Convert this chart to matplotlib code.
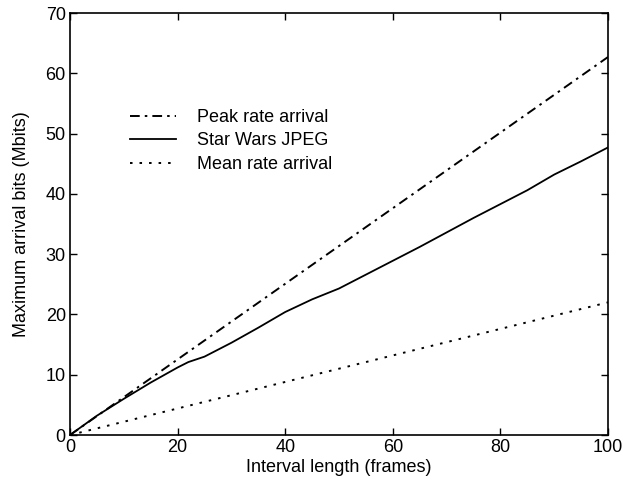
import matplotlib
matplotlib.use("Agg")
import matplotlib.pyplot as plt

plt.rcParams["font.family"] = ["Liberation Sans", "DejaVu Sans"]

# valores
frames = [0, 5, 10, 15, 20, 22, 25, 30, 35, 40, 45, 50, 55, 60, 65, 70, 75, 80, 85, 90, 95, 100]
jpeg = [0, 3.2, 6.0, 8.7, 11.2, 12.1, 13.0, 15.3, 17.8, 20.4, 22.5, 24.3, 26.6, 28.9,
        31.2, 33.6, 36.0, 38.3, 40.6, 43.2, 45.4, 47.7]
pico_x = [0, 100]
pico = [0, 62.7]
media_x = [0, 100]
media = [0, 22.0]

fig = plt.figure(figsize=(6.24, 4.87), dpi=100)
ax = fig.add_axes([70 / 624, 52 / 487, 538 / 624, 422 / 487])

ax.plot(pico_x, pico, color="black", lw=1.4, dashes=(5, 2.6, 1.3, 2.6), label="Peak rate arrival")
ax.plot(frames, jpeg, color="black", lw=1.3, label="Star Wars JPEG")
ax.plot(media_x, media, color="black", lw=1.4, dashes=(1.3, 3.6), label="Mean rate arrival")

ax.set_xlim(0, 100)
ax.set_ylim(0, 70)
ax.set_xticks([0, 20, 40, 60, 80, 100])
ax.set_yticks([0, 10, 20, 30, 40, 50, 60, 70])
ax.tick_params(direction="in", top=True, right=True, length=5, width=1, labelsize=13, pad=3)
for s in ax.spines.values():
    s.set_linewidth(1.2)

ax.set_xlabel("Interval length (frames)", fontsize=13, labelpad=2)
ax.set_ylabel("Maximum arrival bits (Mbits)", fontsize=13, labelpad=11)

ax.legend(loc="upper left", bbox_to_anchor=(0.099, 0.79), frameon=False, fontsize=13,
          handlelength=2.5, handletextpad=1.2, labelspacing=0.36, borderaxespad=0)

fig.savefig("out.png", dpi=100)
